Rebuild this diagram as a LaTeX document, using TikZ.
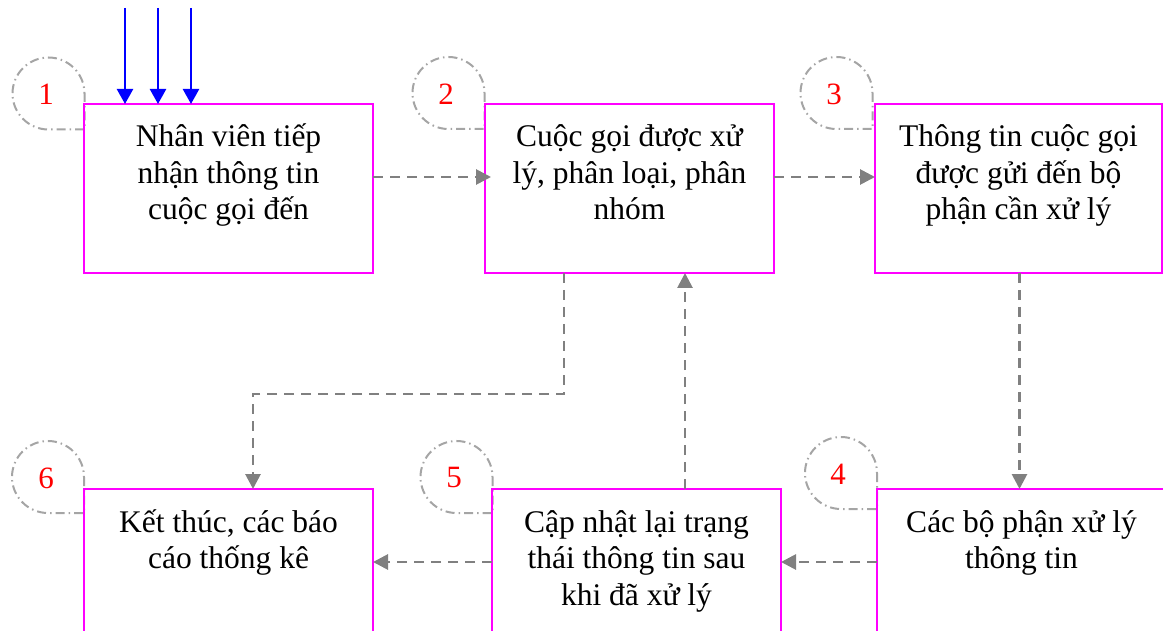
\documentclass[tikz,border=0pt]{standalone}
\usepackage{fontspec}
\setmainfont{Liberation Serif}
\usetikzlibrary{arrows.meta}
\definecolor{boxmag}{RGB}{255,0,255}
\definecolor{flowgray}{RGB}{128,128,128}
\definecolor{taggray}{RGB}{165,165,165}
\definecolor{inblue}{RGB}{0,0,255}
\begin{document}
\begin{tikzpicture}[x=1pt,y=-1pt,
  box/.style={draw=boxmag, line width=2.4pt, minimum width=289pt, minimum height=169pt,
    anchor=north west, outer sep=0pt, inner sep=0pt},
  lbl/.style={anchor=base, align=center, inner sep=0pt,
    font=\fontsize{31.5pt}{36.5pt}\selectfont},
  numlbl/.style={text=red, inner sep=0pt, font=\fontsize{31pt}{36pt}\selectfont},
  tagline/.style={draw=taggray, line width=2pt, dash pattern=on 9pt off 4pt on 1.5pt off 4pt},
  flow/.style={draw=flowgray, line width=2.8pt, dash pattern=on 10pt off 7pt,
    -{Triangle[length=15pt,width=15pt]}},
  inflow/.style={draw=inblue, line width=2.4pt, -{Triangle[length=15pt,width=16pt]}}]
\useasboundingbox (0,0) rectangle (1163,631);
\clip (0,0) rectangle (1163,631);

% number tags
\draw[tagline] (84.5,93) -- (84.5,129.5) -- (48.5,129.5) arc[start angle=270, end angle=0, radius=36pt];
\node[numlbl] (n1) at (46,94) {1};
\draw[tagline] (484.5,93) -- (484.5,129) -- (448.5,129) arc[start angle=270, end angle=0, radius=36pt];
\node[numlbl] (n2) at (446,94) {2};
\draw[tagline] (872.5,93) -- (872.5,129) -- (836.5,129) arc[start angle=270, end angle=0, radius=36pt];
\node[numlbl] (n3) at (834,94) {3};
\draw[tagline] (84,477) -- (84,513) -- (48,513) arc[start angle=270, end angle=0, radius=36pt];
\node[numlbl] (n6) at (46,478) {6};
\draw[tagline] (492.5,477) -- (492.5,513) -- (456.5,513) arc[start angle=270, end angle=0, radius=36pt];
\node[numlbl] (n5) at (454,478) {5};
\draw[tagline] (877,473) -- (877,509) -- (841,509) arc[start angle=270, end angle=0, radius=36pt];
\node[numlbl] (n4) at (838,474) {4};

% boxes
\node[box] (b1) at (84,104) {};
\node[box] (b2) at (485,104) {};
\node[box, minimum width=287pt] (b3) at (875,104) {};
\node[box] (b6) at (84,489) {};
\node[box] (b5) at (492,489) {};
\node[box, minimum width=295pt] (b4) at (877,489) {};

% texts (anchor base = baseline of the last line)
\node[lbl] (t1) at ([yshift=-116pt]b1.north) {Nhân viên tiếp\\nhận thông tin\\cuộc gọi đến};
\node[lbl] (t2) at ([yshift=-116pt]b2.north) {Cuộc gọi được xử\\lý, phân loại, phân\\nhóm};
\node[lbl] (t3) at ([yshift=-116pt]b3.north) {Thông tin cuộc gọi\\được gửi đến bộ\\phận cần xử lý};
\node[lbl] (t4) at ([yshift=-79.5pt,xshift=-3pt]b4.north) {Các bộ phận xử lý\\thông tin};
\node[lbl] (t5) at ([yshift=-116pt]b5.north) {Cập nhật lại trạng\\thái thông tin sau\\khi đã xử lý};
\node[lbl] (t6) at ([yshift=-79.5pt]b6.north) {Kết thúc, các báo\\cáo thống kê};

% incoming blue arrows
\coordinate (in1) at (125,8);
\coordinate (in2) at (158,8);
\coordinate (in3) at (191,8);
\draw[inflow] (in1) -- (in1 |- b1.north);
\draw[inflow] (in2) -- (in2 |- b1.north);
\draw[inflow] (in3) -- (in3 |- b1.north);

% flow arrows
\draw[flow, shorten >=-6pt] ([yshift=-73pt]b1.north east) -- ([yshift=-73pt]b2.north west);
\draw[flow] ([yshift=-73pt]b2.north east) -- ([yshift=-73pt]b3.north west);
\draw[flow] ([xshift=1pt]b3.south) -- ([xshift=1pt]b3.south |- b4.north);
\draw[flow] ([yshift=-73pt]b4.north west) -- ([yshift=-73pt]b5.north east);
\draw[flow] ([yshift=-73pt]b5.north west) -- ([yshift=-73pt]b6.north east);
\draw[flow] ([xshift=193pt]b5.north west) -- ([xshift=200pt]b2.south west);
\draw[flow] ([xshift=79pt]b2.south west) -- ++(0,121) -| ([xshift=169pt]b6.north west);
\end{tikzpicture}
\end{document}
